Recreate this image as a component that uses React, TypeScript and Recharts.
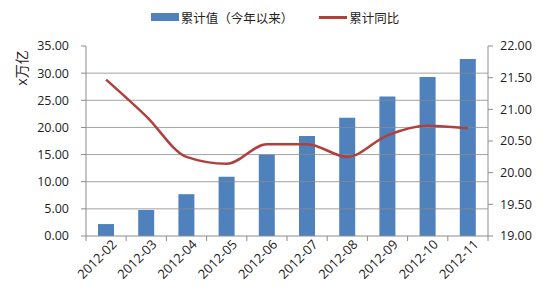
import React from 'react';
import { ComposedChart, Bar, Line, XAxis, YAxis, Legend, ReferenceLine } from 'recharts';

const months = ['2012-02', '2012-03', '2012-04', '2012-05', '2012-06', '2012-07', '2012-08', '2012-09', '2012-10', '2012-11'];
const cumValue = [2.2, 4.8, 7.7, 10.9, 15.0, 18.4, 21.8, 25.7, 29.3, 32.6];
const cumYoY = [21.47, 20.89, 20.25, 20.14, 20.45, 20.45, 20.25, 20.59, 20.74, 20.70];
const leftTicks = [0, 5, 10, 15, 20, 25, 30, 35];
const rightTicks = [19, 19.5, 20, 20.5, 21, 21.5, 22];
const gridValues = leftTicks.filter((v) => v > 0 && v < 35);

const BAR_NAME = '累计值（今年以来）';
const LINE_NAME = '累计同比';

const data = months.map((m, i) => ({ month: m, value: cumValue[i], yoy: cumYoY[i] }));

const CHART_W = 550;
const LEFT_W = 86;
const RIGHT_W = 62;
const HALF_BAND = (CHART_W - LEFT_W - RIGHT_W) / months.length / 2;

const FONT = '"Open Sans", "Noto Sans CJK SC", sans-serif';
const BLUE = '#4F81BD';
const RED = '#B0403D';
const GRID = '#8c8c8c';

const XTick = (props: any) => {
  const { x, y, payload, index } = props;
  const isLast = index === months.length - 1;
  return (
    <g>
      <line x1={x - HALF_BAND} x2={x - HALF_BAND} y1={y} y2={y + 5} stroke={GRID} />
      {isLast && <line x1={x + HALF_BAND} x2={x + HALF_BAND} y1={y} y2={y + 5} stroke={GRID} />}
      <g transform={`translate(${x},${y + 5})`}>
        <text x={0} y={0} dy={11} dx={5} textAnchor="end" transform="rotate(-45)" fill="#222" fontSize={13} fontFamily={FONT}>
          {payload.value}
        </text>
      </g>
    </g>
  );
};

const LegendContent = () => (
  <div style={{ display: 'flex', justifyContent: 'center', alignItems: 'center', fontFamily: FONT, fontSize: 12.5, color: '#222', height: 22, paddingLeft: 0 }}>
    <span style={{ display: 'inline-block', width: 28, height: 8, background: BLUE, marginRight: 2 }} />
    <span style={{ marginRight: 26 }}>{BAR_NAME}</span>
    <span style={{ display: 'inline-block', width: 28, height: 3, background: RED, marginRight: 2 }} />
    <span>{LINE_NAME}</span>
  </div>
);

export default function App() {
  return (
    <div style={{ position: 'absolute', left: 0, top: 0, background: '#fff' }}>
      <ComposedChart width={CHART_W} height={300} data={data} margin={{ top: 16, right: 0, left: 0, bottom: 0 }}>
        <Legend verticalAlign="top" height={30} content={<LegendContent />} wrapperStyle={{ top: 6 }} />
        <XAxis
          dataKey="month"
          xAxisId="cat"
          height={64}
          tickLine={false}
          tickSize={0}
          tickMargin={0}
          axisLine={{ stroke: GRID }}
          tick={<XTick />}
          interval={0}
        />
        <YAxis
          yAxisId="left"
          width={LEFT_W}
          domain={[0, 35]}
          ticks={leftTicks}
          tickFormatter={(v: number) => v.toFixed(2)}
          tick={{ fill: '#222', fontSize: 12.5, fontFamily: FONT }}
          axisLine={{ stroke: GRID }}
          tickLine={{ stroke: GRID }}
          tickSize={5}
          tickMargin={12}
          label={{
            content: (p: any) => (
              <text x={22} y={p.viewBox.y + 22} textAnchor="middle" transform={`rotate(-90, 22, ${p.viewBox.y + 22})`} dy={5} fontSize={14} fill="#222" fontFamily={FONT}>
                x万亿
              </text>
            ),
          }}
        />
        <YAxis
          yAxisId="right"
          orientation="right"
          width={RIGHT_W}
          domain={[19, 22]}
          ticks={rightTicks}
          tickFormatter={(v: number) => v.toFixed(2)}
          tick={{ fill: '#222', fontSize: 12.5, fontFamily: FONT }}
          axisLine={{ stroke: GRID }}
          tickLine={{ stroke: GRID }}
          tickSize={5}
          tickMargin={7}
        />
        {gridValues.map((v) => (
          <ReferenceLine key={v} y={v} xAxisId="cat" yAxisId="left" stroke={GRID} strokeWidth={0.8} />
        ))}
        <Bar dataKey="value" name={BAR_NAME} xAxisId="cat" yAxisId="left" fill={BLUE} barSize={16} isAnimationActive={false} />
        <Line dataKey="yoy" name={LINE_NAME} xAxisId="cat" yAxisId="right" type="monotone" stroke={RED} strokeWidth={2.5} dot={false} isAnimationActive={false} />
      </ComposedChart>
    </div>
  );
}
